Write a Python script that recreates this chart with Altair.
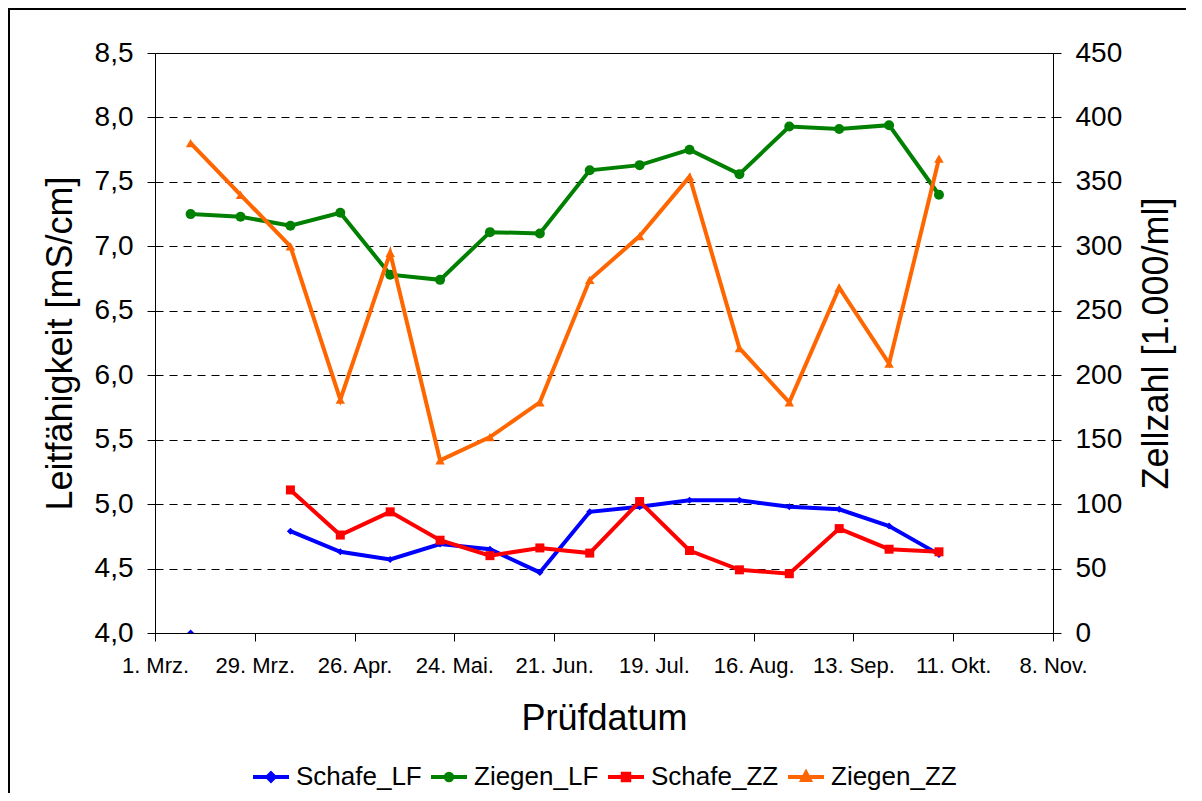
import altair as alt
import pandas as pd

# ---- data ----
dates = ["2007-03-11", "2007-03-25", "2007-04-08", "2007-04-22", "2007-05-06",
         "2007-05-20", "2007-06-03", "2007-06-17", "2007-07-01", "2007-07-15",
         "2007-07-29", "2007-08-12", "2007-08-26", "2007-09-09", "2007-09-23",
         "2007-10-07"]
schafe_lf = [4.0, None, 4.79, 4.63, 4.57, 4.69, 4.65, 4.47, 4.94, 4.98,
             5.03, 5.03, 4.98, 4.96, 4.83, 4.61]
ziegen_lf = [7.25, 7.23, 7.16, 7.26, 6.78, 6.74, 7.11, 7.10, 7.59, 7.63,
             7.75, 7.56, 7.93, 7.91, 7.94, 7.40]
schafe_zz = [None, None, 111, 76, 94, 72, 60, 66, 62, 102,
             64, 49, 46, 81, 65, 63]
ziegen_zz = [380, 340, 300, 181, 295, 134, 152, 179, 274, 308,
             354, 221, 179, 268, 209, 368]

series_names = ["Schafe_LF", "Ziegen_LF", "Schafe_ZZ", "Ziegen_ZZ"]
series_colors = ["#0000FF", "#008000", "#FF0000", "#FF6600"]
series_shapes = ["diamond", "circle", "square", "triangle-up"]
series_sizes = [50, 100, 81, 90]
left_ticks = [4.0, 4.5, 5.0, 5.5, 6.0, 6.5, 7.0, 7.5, 8.0, 8.5]
right_ticks = [0, 50, 100, 150, 200, 250, 300, 350, 400, 450]
x_tick_dates = [(3, 1), (3, 29), (4, 26), (5, 24), (6, 21), (7, 19),
                (8, 16), (9, 13), (10, 11), (11, 8)]
month_names = ["Jan.", "Feb.", "Mrz.", "Apr.", "Mai.", "Jun.", "Jul.",
               "Aug.", "Sep.", "Okt.", "Nov.", "Dez."]

rows = []
for name, vals in zip(series_names, [schafe_lf, ziegen_lf, schafe_zz, ziegen_zz]):
    for d, v in zip(dates, vals):
        rows.append({"date": d, "series": name, "value": v})
df = pd.DataFrame(rows)

FONT = "Liberation Sans"

x_enc = alt.X(
    "date:T",
    scale=alt.Scale(type="utc",
                    domain=[alt.DateTime(year=2007, month=3, date=1, utc=True),
                            alt.DateTime(year=2007, month=11, date=8, utc=True)]),
    axis=alt.Axis(
        title="Prüfdatum",
        values=[alt.DateTime(year=2007, month=m, date=d, utc=True) for m, d in x_tick_dates],
        labelExpr="utcdate(datum.value) + '. ' + " + str(month_names) + "[utcmonth(datum.value)]",
        labelFontSize=22, labelPadding=14, labelFlush=False, labelOverlap=False,
        labelAngle=0, titleFontSize=36, titleY=96, titleBaseline="alphabetic",
        grid=False,
    ),
)

y_left = alt.Y(
    "value:Q",
    scale=alt.Scale(domain=[4.0, 8.5], nice=False, zero=False),
    axis=alt.Axis(
        title="Leitfähigkeit [mS/cm]", values=left_ticks,
        labelExpr="replace(format(datum.value, '.1f'), '.', ',')",
        labelFontSize=28, labelPadding=14,
        titleFontSize=36, titleAngle=270, titleX=-84, titleY=290,
        titleBaseline="alphabetic", titleAlign="center",
        grid=True, gridColor="black", gridDash=[8, 6], gridWidth=1,
    ),
)

y_right = alt.Y(
    "value:Q",
    scale=alt.Scale(domain=[0, 450], nice=False),
    axis=alt.Axis(
        orient="right", title="Zellzahl [1.000/ml]", values=right_ticks,
        labelFontSize=28, labelPadding=14,
        titleFontSize=36, titleAngle=270, titleX=114, titleY=290,
        titleBaseline="alphabetic", titleAlign="center",
        grid=False,
    ),
)


def series_layers(idx, y_enc):
    name = series_names[idx]
    base = alt.Chart(df).transform_filter(alt.datum.series == name)
    line = base.mark_line(color=series_colors[idx], strokeWidth=4,
                          invalid="break-paths-show-domains").encode(x=x_enc, y=y_enc)
    pts = base.transform_filter("isValid(datum.value)").mark_point(
        shape=series_shapes[idx], filled=True, size=series_sizes[idx],
        color=series_colors[idx], opacity=1, clip=True).encode(x=x_enc, y=y_enc)
    return [line, pts]


left = alt.layer(*(series_layers(0, y_left) + series_layers(1, y_left)))
right = alt.layer(*(series_layers(2, y_right) + series_layers(3, y_right)))

# legend symbols: a line with the series marker in the middle
legend_paths = [
    "M-1,0H1M0,-0.2L0.2,0L0,0.2L-0.2,0Z",
    "M-1,0H1M0.18,0A0.18,0.18 0 1,1 -0.18,0A0.18,0.18 0 1,1 0.18,0Z",
    "M-1,0H1M-0.18,-0.18H0.18V0.18H-0.18Z",
    "M-1,0H1M0,-0.24L0.21,0.16H-0.21Z",
]


def make_legend():
    return alt.Legend(
        title=None, orient="none", legendX=96, legendY=704, direction="horizontal",
        columns=4, gridAlign="none", labelFontSize=26, labelFont=FONT, labelColor="black",
        symbolSize=1296, symbolStrokeWidth=4, labelOffset=5, columnPadding=1,
        padding=0, labelLimit=400,
    )


legend_layer = alt.Chart(df).transform_filter("false").mark_point(
    filled=False, strokeWidth=4, opacity=1
).encode(
    color=alt.Color("series:N", scale=alt.Scale(domain=series_names, range=series_colors),
                    legend=make_legend()),
    shape=alt.Shape("series:N", scale=alt.Scale(domain=series_names, range=legend_paths),
                    legend=make_legend()),
)

border = alt.Chart(alt.Data(values=[{"k": 0}])).mark_rect(
    fill="transparent", stroke="black", strokeWidth=2
).encode(x=alt.value(-146), x2=alt.value(1100), y=alt.value(-44), y2=alt.value(800))

chart = alt.layer(border, left, right, legend_layer).resolve_scale(
    y="independent"
).properties(
    width=898, height=580,
    autosize=alt.AutoSizeParams(type="none"),
    padding={"left": 147, "top": 45, "right": 133, "bottom": 160},
    background="white",
).configure_view(
    stroke="black", strokeWidth=1
).configure_axis(
    domainColor="black", tickColor="black", labelColor="black", titleColor="black",
    labelFont=FONT, titleFont=FONT, titleFontWeight="normal",
    tickSize=8, tickWidth=1, domainWidth=1,
)

chart.save("out.html", embed_options={"renderer": "svg", "actions": False})
